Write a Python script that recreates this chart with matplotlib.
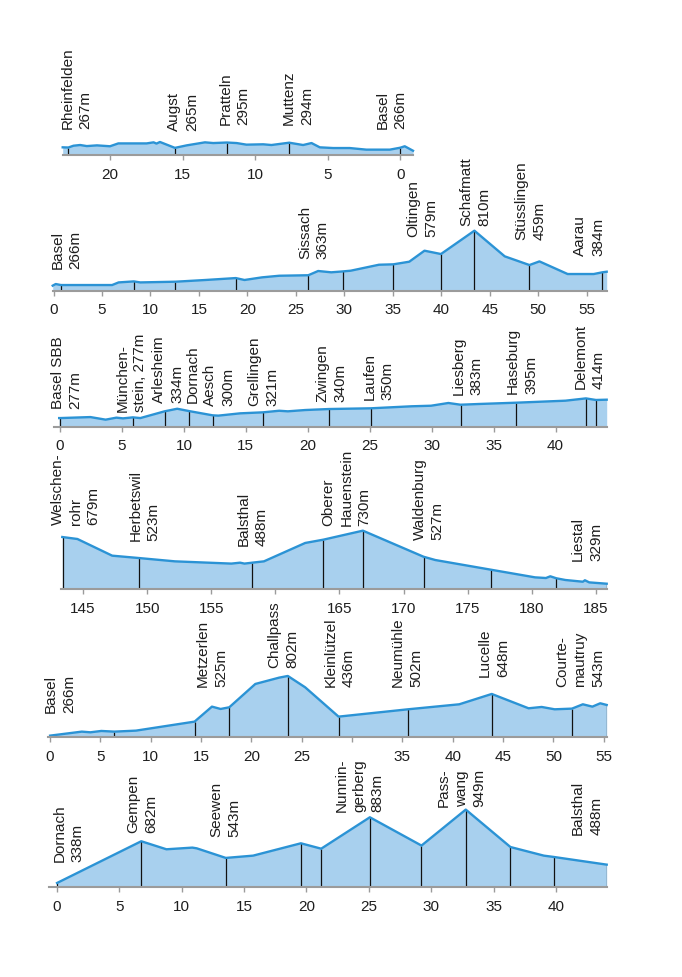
import numpy as np
import matplotlib
matplotlib.use("Agg")
import matplotlib.pyplot as plt

plt.rcParams['font.family'] = ['Liberation Sans', 'DejaVu Sans']

W, H = 682, 978
STROKE = '#2b93d5'
FILL = '#a8d0ee'
AXIS = '#9b9b9b'
TXT = '#1e1e1e'

# Rheinfelden - Basel (km counted backwards)
p1_km = [23.26, 22.87, 22.52, 22.06, 21.6, 20.9, 20.0, 19.43, 17.48, 17.0, 16.8, 16.56, 15.53,
         14.72, 13.46, 12.89, 11.95, 11.28, 10.6, 9.45, 8.88, 7.66, 6.7, 6.12, 5.55, 4.63, 3.49,
         2.34, 0.73, 0.0, -0.3, -0.87]
p1_elev = [268, 267, 277, 281, 275, 279, 274, 290, 290, 296, 289, 298, 265, 279, 296, 292, 295,
           292, 283, 285, 281, 294, 281, 292, 268, 264, 264, 255, 255, 266, 274, 249]
p1_marks = [22.87, 15.53, 11.95, 7.66, 0.0]
p1_ticks = [0, 5, 10, 15, 20]
p1_ticklabels = ["0", "5", "10", "15", "20"]
p1_names = ["Rheinfelden\n267m", "Augst\n265m", "Pratteln\n295m", "Muttenz\n294m", "Basel\n266m"]

# Basel - Aarau
p2_km = [-0.09, 0.22, 0.76, 6.04, 6.71, 8.28, 8.95, 12.58, 15.67, 18.8, 19.7, 21.5, 23.28, 26.28,
         27.3, 28.65, 29.86, 30.66, 33.57, 35.05, 36.7, 38.27, 39.97, 43.42, 46.55, 49.1, 50.13,
         53.04, 55.73, 56.62, 57.07]
p2_elev = [260, 276, 266, 266, 292, 302, 292, 299, 316, 335, 316, 342, 358, 363, 405, 392, 401,
           408, 467, 471, 497, 606, 573, 804, 550, 464, 500, 375, 375, 392, 398]
p2_marks = [0.76, 8.28, 12.58, 18.8, 26.28, 29.86, 35.05, 39.97, 43.42, 49.1, 56.62]
p2_ticks = [0, 5, 10, 15, 20, 25, 30, 35, 40, 45, 50, 55]
p2_ticklabels = ["0", "5", "10", "15", "20", "25", "30", "35", "40", "45", "50", "55"]
p2_names = ["Basel\n266m", "Sissach\n363m", "Oltingen\n579m", "Schafmatt\n810m",
            "Stüsslingen\n459m", "Aarau\n384m"]

# Basel SBB - Delemont
p3_km = [-0.07, 0.0, 2.45, 3.68, 4.55, 5.08, 5.88, 6.48, 8.44, 9.46, 10.4, 12.33, 12.78, 14.54,
         16.39, 17.69, 18.39, 19.79, 21.72, 25.08, 28.37, 29.95, 31.35, 32.33, 33.8, 36.81, 40.8,
         42.45, 43.26, 44.13]
p3_elev = [277, 277, 284, 266, 280, 275, 282, 277, 324, 342, 326, 296, 294, 310, 317, 328, 324,
           333, 340, 345, 359, 363, 382, 370, 375, 384, 398, 414, 403, 405]
p3_marks = [0.0, 5.88, 8.44, 10.4, 12.33, 16.39, 21.72, 25.08, 32.33, 36.81, 42.45, 43.26]
p3_ticks = [0, 5, 10, 15, 20, 25, 30, 35, 40]
p3_ticklabels = ["0", "5", "10", "15", "20", "25", "30", "35", "40"]
p3_names = ["Basel SBB\n277m", "München-\nstein, 277m", "Arlesheim\n334m", "Dornach",
            "Aesch\n300m", "Grellingen\n321m", "Zwingen\n340m", "Laufen\n350m",
            "Liesberg\n383m", "Haseburg\n395m", "Delemont\n414m"]

# Welschenrohr - Liestal (tick label 160 hidden under the Challpass label)
p4_km = [143.38, 144.56, 147.27, 149.37, 152.17, 156.57, 157.25, 157.59, 158.2, 159.11, 162.33,
         163.75, 166.83, 171.56, 172.48, 176.81, 180.26, 181.11, 181.45, 181.92, 182.63, 183.99,
         184.15, 184.49, 185.85]
p4_elev = [682, 667, 541, 523, 498, 481, 488, 481, 488, 498, 637, 662, 730, 533, 508, 435, 377,
           372, 385, 370, 357, 344, 355, 339, 329]
p4_marks = [143.44, 149.37, 158.2, 163.75, 166.83, 171.56, 176.81, 181.92, 185.85]
p4_ticks = [145, 150, 155, 160, 165, 170, 175, 180, 185]
p4_ticklabels = ["145", "150", "155", "", "165", "170", "175", "180", "185"]
p4_names = ["Welschen-\nrohr\n679m", "Herbetswil\n523m", "Balsthal\n488m",
            "Oberer\nHauenstein\n730m", "Waldenburg\n527m", "Liestal\n329m"]

# Basel - Courtemautruy (tick label 30 hidden under the Nunningerberg label)
p5_km = [0.0, 3.15, 4.0, 5.09, 6.38, 8.53, 14.35, 16.08, 16.94, 17.8, 20.39, 22.76, 23.62, 25.34,
         28.66, 35.56, 40.65, 43.88, 47.54, 48.84, 50.13, 51.85, 52.93, 53.88, 54.66, 55.3]
p5_elev = [266, 302, 296, 308, 302, 311, 392, 527, 506, 521, 731, 788, 803, 701, 437, 503, 548,
           641, 512, 524, 503, 509, 548, 527, 557, 542]
p5_marks = [0.0, 6.38, 14.35, 17.8, 23.62, 28.66, 35.56, 43.88, 51.85, 55.3]
p5_ticks = [0, 5, 10, 15, 20, 25, 30, 35, 40, 45, 50, 55]
p5_ticklabels = ["0", "5", "10", "15", "20", "25", "", "35", "40", "45", "50", "55"]
p5_names = ["Basel\n266m", "Metzerlen\n525m", "Challpass\n802m", "Kleinlützel\n436m",
            "Neumühle\n502m", "Lucelle\n648m", "Courte-\nmautruy\n543m"]

# Dornach - Balsthal
p6_km = [0.0, 6.75, 8.77, 10.85, 11.2, 13.53, 15.72, 19.55, 21.18, 25.08, 29.22, 32.77, 36.35,
         39.03, 39.83, 44.07]
p6_elev = [338, 686, 619, 633, 627, 547, 566, 669, 624, 886, 650, 950, 638, 566, 555, 491]
p6_marks = [0.0, 6.75, 13.53, 19.55, 21.18, 25.08, 29.22, 32.77, 36.35, 39.83, 44.07]
p6_ticks = [0, 5, 10, 15, 20, 25, 30, 35, 40]
p6_ticklabels = ["0", "5", "10", "15", "20", "25", "30", "35", "40"]
p6_names = ["Dornach\n338m", "Gempen\n682m", "Seewen\n543m", "Nunnin-\ngerberg\n883m",
            "Pass-\nwang\n949m", "Balsthal\n488m"]

# layout: left px, right px, baseline px, xlim, y at baseline (m), metres per pixel,
# label positions (left px, px above baseline)
panels = [
    (p1_km, p1_elev, p1_marks, p1_ticks, p1_ticklabels, p1_names, 62.7, 413, 156,
     (23.26, -0.87), 225, 5.61,
     [(63.3, 26.7), (170, 25.3), (221.7, 31), (285, 31), (378.3, 27)]),
    (p2_km, p2_elev, p2_marks, p2_ticks, p2_ticklabels, p2_names, 52.7, 606.7, 291.7,
     (-0.09, 57.07), 210, 9.9,
     [(53.6, 22.7), (300.9, 32.3), (409.3, 54.3), (462.2, 65.7), (517.8, 51.7), (576.4, 36)]),
    (p3_km, p3_elev, p3_marks, p3_ticks, p3_ticklabels, p3_names, 53.6, 606.7, 427.7,
     (-0.52, 44.13), 217, 6.96,
     [(53.6, 18.3), (118.3, 16), (155, 25), (188.5, 25), (206, 21.7), (250.7, 21.7),
      (318.2, 25.3), (365.9, 27.7), (454.9, 32.7), (509.1, 33.7), (576.4, 39)]),
    (p4_km, p4_elev, p4_marks, p4_ticks, p4_ticklabels, p4_names, 60.5, 606.7, 590,
     (143.24, 185.85), 289, 7.56,
     [(53.6, 65), (131.7, 49), (240.1, 44), (324.7, 64), (415.8, 50), (574.2, 29.3)]),
    (p5_km, p5_elev, p5_marks, p5_ticks, p5_ticklabels, p5_names, 48.4, 606.7, 738.3,
     (-0.17, 55.3), 251, 9.0,
     [(47.1, 25.7), (198.9, 51.7), (270.5, 70), (326.9, 51.7), (394.1, 51.7), (480.9, 61.7),
      (558.1, 51.7)]),
    (p6_km, p6_elev, p6_marks, p6_ticks, p6_ticklabels, p6_names, 49.2, 606.7, 888.3,
     (-0.63, 44.07), 302, 8.34,
     [(55.7, 26.7), (129.5, 55.7), (211.9, 51.7), (337.7, 76.7), (439.7, 81.7), (574.2, 53.3)]),
]

LINE_PITCH = 18  # px between the rotated lines of one label

fig = plt.figure(figsize=(W / 100, H / 100), dpi=100)

for (km, elev, marks, ticks, ticklabels, names, left, right, base, xlim, ybase, mpp,
     lab) in panels:
    hpx = 100
    ax = fig.add_axes([left / W, 1 - base / H, (right - left) / W, hpx / H])
    ax.set_xlim(*xlim)
    ax.set_ylim(ybase, ybase + hpx * mpp)
    ax.patch.set_visible(False)
    ax.fill_between(km, elev, ybase, color=FILL, lw=0, zorder=1)
    if km[0] < km[-1]:
        tops = np.interp(marks, km, elev)
    else:
        tops = np.interp(marks, km[::-1], elev[::-1])
    ax.vlines(marks, ybase, tops, color='#111111', lw=0.9, zorder=2)
    ax.plot(km, elev, color=STROKE, lw=1.7, zorder=3, clip_on=False,
            solid_joinstyle='round')
    for s in ['top', 'left', 'right']:
        ax.spines[s].set_visible(False)
    ax.spines['bottom'].set_color(AXIS)
    ax.spines['bottom'].set_linewidth(1.5)
    ax.spines['bottom'].set_zorder(4)
    ax.set_yticks([])
    ax.set_xticks(ticks)
    ax.set_xticklabels(ticklabels)
    ax.tick_params(axis='x', length=3.4, width=1.0, color=AXIS, pad=5,
                   labelsize=11, labelcolor=TXT)
    # station labels, one rotated text per line
    for name, (lx, lh) in zip(names, lab):
        for i, line in enumerate(name.split('\n')):
            fig.text((lx - 3 + i * LINE_PITCH) / W, 1 - (base - lh) / H, line,
                     rotation=90, ha='left', va='bottom', fontsize=11, color=TXT)

fig.savefig('out.png', dpi=100)
